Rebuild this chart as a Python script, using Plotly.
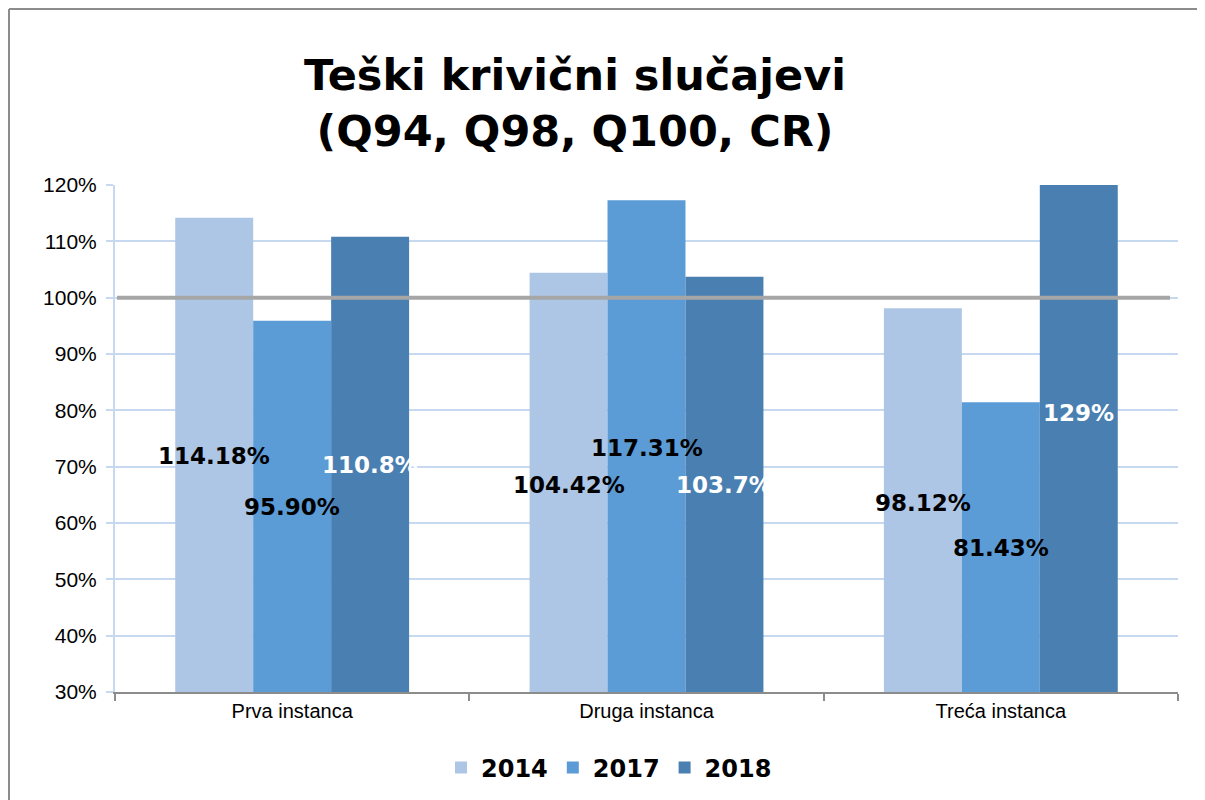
import plotly.graph_objects as go

categories = ["Prva instanca", "Druga instanca", "Treća instanca"]
years = ["2014", "2017", "2018"]
values_2014 = [114.18, 104.42, 98.12]
values_2017 = [95.90, 117.31, 81.43]
values_2018 = [110.8, 103.7, 129.0]
label_text_2014 = ["114.18%", "104.42%", "98.12%"]
label_text_2017 = ["95.90%", "117.31%", "81.43%"]
label_text_2018 = ["110.8%", "103.7%", "129%"]
# where the (manually placed) data labels sit, in axis units
label_y_2014 = [71.9, 66.7, 63.6]
label_y_2017 = [62.8, 73.3, 55.6]
label_y_2018 = [70.3, 66.7, 79.5]
target_level = 100
tick_vals = [30, 40, 50, 60, 70, 80, 90, 100, 110, 120]
tick_text = ["30%", "40%", "50%", "60%", "70%", "80%", "90%", "100%", "110%", "120%"]

colors = ["#aec6e6", "#5b9bd6", "#4a7fb1"]
label_colors = ["black", "black", "white"]

series = [values_2014, values_2017, values_2018]
labels = [label_text_2014, label_text_2017, label_text_2018]
label_ys = [label_y_2014, label_y_2017, label_y_2018]

OFF = 8  # page body margin
W, H = 1197, 792
ml, mt = 115 - OFF, 185 - OFF
mr = W - (1178 - OFF)
mb = H - (692 - OFF)
pw = W - ml - mr
ph = H - mt - mb
bargap = 0.34
cat_px = pw / len(categories)
bar_px = cat_px * (1 - bargap) / 3

fig = go.Figure()
for i, (yr, vals) in enumerate(zip(years, series)):
    fig.add_trace(go.Bar(
        x=categories, y=vals, name=yr,
        marker=dict(color=colors[i], line=dict(width=0)),
        hoverinfo="skip",
    ))

annotations = []
for i in range(3):
    for j, cat in enumerate(categories):
        annotations.append(dict(
            x=cat, y=label_ys[i][j], xref="x", yref="y",
            text=labels[i][j], showarrow=False,
            xshift=(i - 1) * bar_px,
            font=dict(family="DejaVu Sans", size=23, color=label_colors[i], weight="bold"),
        ))

# screen px -> paper coords
sx = lambda x: (x - OFF - ml) / pw
sy = lambda y: (H - mb - (y - OFF)) / ph

shapes = [
    # 100% reference line
    dict(type="line", xref="paper", yref="y", x0=sx(117), x1=sx(1170),
         y0=target_level, y1=target_level, line=dict(color="#a6a6a6", width=4), layer="above"),
    # outer frame
    dict(type="line", xref="paper", yref="paper", x0=sx(OFF + 1), x1=sx(OFF + 1),
         y0=sy(OFF + 1), y1=sy(830), line=dict(color="#8c8c8c", width=2)),
    dict(type="line", xref="paper", yref="paper", x0=sx(OFF + 1), x1=sx(1230),
         y0=sy(OFF + 1), y1=sy(OFF + 1), line=dict(color="#8c8c8c", width=2)),
]

fig.update_layout(
    width=W, height=H,
    margin=dict(l=ml, r=mr, t=mt, b=mb, autoexpand=False),
    paper_bgcolor="white", plot_bgcolor="white",
    barmode="group", bargap=bargap, bargroupgap=0,
    title=dict(
        text="Teški krivični slučajevi<br>(Q94, Q98, Q100, CR)",
        xref="container", yref="container", x=(575 - OFF) / W, xanchor="center",
        y=1 - 82 / H, yanchor="top",
        font=dict(family="DejaVu Sans", size=43, color="black", weight="bold"),
    ),
    xaxis=dict(
        showgrid=False, showline=True, linecolor="#8c8c8c", linewidth=2,
        ticks="outside", tickson="boundaries", ticklen=7, tickcolor="#8c8c8c", tickwidth=2,
        tickangle=0,
        tickfont=dict(family="Liberation Sans, Arial", size=20, color="black"),
    ),
    yaxis=dict(
        range=[30, 120], tickvals=tick_vals, ticktext=tick_text,
        showgrid=True, gridcolor="#c6d9f1", gridwidth=2,
        showline=True, linecolor="#c6d9f1", linewidth=2,
        ticks="outside", ticklen=7, tickcolor="#c6d9f1", tickwidth=2,
        ticklabelstandoff=5,
        tickfont=dict(family="Liberation Sans, Arial", size=21, color="black"),
        zeroline=False,
    ),
    legend=dict(
        orientation="h", x=sx(609), xanchor="center",
        y=sy(768), yanchor="middle",
        font=dict(family="DejaVu Sans", size=24, color="black", weight="bold"),
        bgcolor="rgba(0,0,0,0)",
    ),
    annotations=annotations,
    shapes=shapes,
    showlegend=True,
)

fig.write_html("out.html")
